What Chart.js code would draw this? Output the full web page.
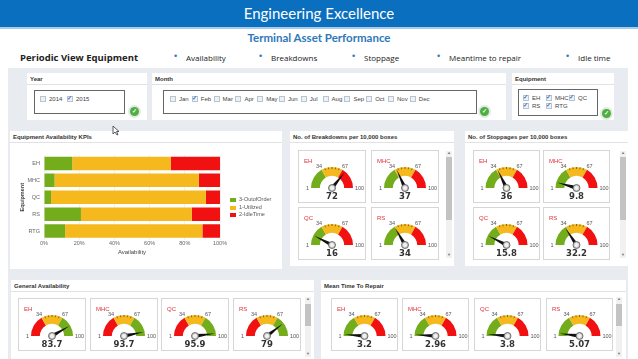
<!DOCTYPE html>
<html>
<head>
<meta charset="utf-8">
<script src="https://cdn.jsdelivr.net/npm/chart.js"></script>
<style>
body { margin: 0; width: 638px; height: 359px; overflow: hidden; background: #fff; position: relative; font-family: "Liberation Sans", Arial, sans-serif; }
.abs { position: absolute; }
#header { left: 0; top: 0; width: 638px; height: 27px; background: #0a6fbe; border-bottom: 2px solid #a9cbe8; color: #fff; font: 15px Lato, sans-serif; text-align: center; line-height: 27px; }
#sub { left: 0; width: 638px; top: 31px; text-align: center; font: bold 11.5px Lato, sans-serif; color: #2f78b8; }
.nav { top: 52px; font: 8px "Open Sans", sans-serif; color: #222; }
.dot { top: 51px; font: 9px sans-serif; color: #2f78b8; }
#bg { left: 8px; top: 68px; width: 620px; height: 291px; background: #e8ecf0; }
.panel { position: absolute; background: #fff; }
.ptitle { position: absolute; left: 3px; top: 3px; font: bold 6px "Liberation Sans", sans-serif; color: #333; white-space: nowrap; }
.psep { position: absolute; left: 0; right: 0; top: 11px; height: 1px; background: #e2e2e2; }
.box { position: absolute; border: 1px solid #666; background: #fff; }
.opt { position: absolute; font: 6px "Liberation Sans", sans-serif; color: #444; white-space: nowrap; }
.cb { display: inline-block; width: 4px; height: 4px; border: 1px solid #b8c4d0; background: #eef2f6; vertical-align: -1px; margin-right: 3px; position: relative; }
.cb.on::after { content: "\2713"; position: absolute; left: -1px; top: -3px; font: bold 6px sans-serif; color: #3a6fb8; }
.ok { position: absolute; width: 9px; height: 9px; border-radius: 50%; background: #4caf3e; box-shadow: 0 0 0 2px #e4e8e4; color: #fff; font: bold 6px sans-serif; text-align: center; line-height: 9px; }
.card { position: absolute; background: #fff; border: 1px solid #d6d6d6; box-sizing: border-box; }
.card canvas { position: absolute; left: 0; top: 0; }
.sb { position: absolute; width: 6px; background: #f1f1f1; }
.sb .th { position: absolute; left: 0; width: 6px; background: #c3c3c3; }
.sb .ar { position: absolute; left: 0; width: 6px; text-align: center; font: 4px sans-serif; color: #777; }
.leg { position: absolute; font: 5.5px "Liberation Sans", sans-serif; color: #555; white-space: nowrap; }
.flag { display: inline-block; width: 5px; height: 4px; margin-right: 3px; border-left: 1px solid; vertical-align: -1px; }
</style>
</head>
<body>
<div id="header" class="abs">Engineering Excellence</div>
<div id="sub" class="abs">Terminal Asset Performance</div>
<div class="abs nav" style="left:20px;font:bold 9.5px 'Open Sans',sans-serif;top:51px">Periodic View Equipment</div>
<div id="bg" class="abs"></div>
<canvas id="kpi" class="abs" width="272" height="122" style="left:10px;top:143px"></canvas>
<script>
// data
const equipment = ["EH", "MHC", "QC", "RS", "RTG"];
const outOfOrder = [16, 6, 4, 21, 12];
const utilized = [56, 82, 88, 63, 78];
const idleTime = [28, 12, 8, 16, 10];
const availabilityTicks = [0, 20, 40, 60, 80, 100];

const gaugeUnits = ["EH", "MHC", "QC", "RS"];
const gaugeTicks = [1, 34, 67, 100];
const breakdowns = [72, 37, 16, 34];
const stoppages = [36, 9.8, 15.8, 32.2];
const availability = [83.7, 93.7, 95.9, 79];
const repairTime = [3.2, 2.96, 3.8, 5.07];

const navItems = ["Availability", "Breakdowns", "Stoppage", "Meantime to repair", "Idle time"];
const years = ["2014", "2015"];
const months = ["Jan", "Feb", "Mar", "Apr", "May", "Jun", "Jul", "Aug", "Sep", "Oct", "Nov", "Dec"];

const GREEN = "#74ad1c", YELLOW = "#f5b91e", RED = "#f21111";

function el(cls, x, y, html, parent) {
  let d = document.createElement("div");
  d.className = cls;
  if (x != null) d.style.left = x + "px";
  if (y != null) d.style.top = y + "px";
  if (html != null) d.innerHTML = html;
  (parent || document.body).appendChild(d);
  return d;
}

function panel(x, y, w, h, title) {
  let p = el("panel", x, y);
  p.style.width = w + "px";
  p.style.height = h + "px";
  el("ptitle", null, null, title, p);
  el("psep", null, null, null, p);
  return p;
}

function scrollbar(x, y, h, thTop, thH) {
  let s = el("sb", x, y);
  s.style.height = h + "px";
  let t = el("th", null, thTop, null, s);
  t.style.height = thH + "px";
  el("ar", null, -1, "&#9650;", s);
  el("ar", null, h - 6, "&#9660;", s);
}

// nav bullets
let navX = [174, 259, 352, 437, 566];
navItems.forEach((t, i) => {
  el("abs dot", navX[i], null, "&#8226;");
  el("abs nav", navX[i] + 12, null, t);
});

// filters
let yp = panel(27, 73, 120, 47, "Year");
let yb = el("box", 7, 17, null, yp); yb.style.width = "89px"; yb.style.height = "22px";
years.forEach((t, i) => el("opt", 5 + i * 27, 5, '<span class="cb' + (i == 1 ? " on" : "") + '"></span>' + t, yb));
el("ok", 103, 34, "&#10003;", yp);

let mp = panel(152, 73, 354, 47, "Month");
let mb = el("box", 11, 17, null, mp); mb.style.width = "312px"; mb.style.height = "22px";
months.forEach((t, i) => el("opt", 6 + i * 21.8, 5, '<span class="cb' + (i == 1 ? " on" : "") + '"></span>' + t, mb));
el("ok", 328, 34, "&#10003;", mp);

let ep = panel(512, 73, 102, 47, "Equipment");
let eb = el("box", 6, 16, null, ep); eb.style.width = "78px"; eb.style.height = "25px";
equipment.forEach((t, i) => el("opt", 4 + (i % 3) * 23, 5 + Math.floor(i / 3) * 8, '<span class="cb on"></span>' + t, eb));
el("ok", 90, 36, "&#10003;", ep);

// panels
panel(10, 131, 272, 138, "Equipment Availability KPIs");
document.body.appendChild(document.getElementById("kpi"));
panel(290, 131, 164, 135, "No. of Breakdowns per 10,000 boxes");
panel(465, 131, 163, 135, "No. of Stoppages per 10,000 boxes");
panel(11, 280, 303, 79, "General Availability");
panel(321, 280, 305, 79, "Mean Time To Repair");

scrollbar(446, 151, 107, 6, 63);
scrollbar(620, 151, 107, 6, 63);
scrollbar(305, 297, 60, 7, 22);
scrollbar(616, 297, 60, 7, 22);

// legend
[["3-OutofOrder", GREEN], ["1-Utilized", YELLOW], ["2-IdleTime", RED]].forEach((l, i) => {
  el("leg", 230, 196 + i * 7.5, '<span class="flag" style="background:' + l[1] + ';border-color:' + l[1] + '"></span>' + l[0]);
});

// stacked availability bars
new Chart(document.getElementById("kpi"), {
  type: "bar",
  data: {
    labels: equipment,
    datasets: [
      { label: "3-OutofOrder", data: outOfOrder, backgroundColor: GREEN },
      { label: "1-Utilized", data: utilized, backgroundColor: YELLOW },
      { label: "2-IdleTime", data: idleTime, backgroundColor: RED }
    ]
  },
  options: {
    indexAxis: "y",
    responsive: false,
    animation: false,
    layout: { padding: { top: 12, right: 62, bottom: 9.5, left: 0 } },
    datasets: { bar: { barPercentage: 0.8, categoryPercentage: 1 } },
    plugins: { legend: { display: false }, tooltip: { enabled: false } },
    scales: {
      x: {
        stacked: true, min: 0, max: 100,
        afterBuildTicks: s => { s.ticks = availabilityTicks.map(v => ({ value: v })); },
        afterFit: s => { s.height = 16; },
        ticks: { callback: v => v + "%", font: { size: 5.5, family: "Liberation Sans" }, color: "#666", padding: 1 },
        grid: { color: "#f1f1f1", drawTicks: false },
        border: { display: false },
        title: { display: true, text: "Availability", font: { size: 6, family: "Liberation Sans" }, color: "#444", padding: 0 }
      },
      y: {
        stacked: true,
        afterFit: s => { s.width = 34; },
        ticks: { font: { size: 5.5, family: "Liberation Sans" }, color: "#666", padding: 4 },
        grid: { display: false, drawTicks: false },
        border: { display: false },
        title: { display: true, text: "Equipment", font: { size: 5.5, family: "Liberation Sans", weight: "bold" }, color: "#444", padding: { top: 9, bottom: 0 } }
      }
    }
  }
});

// gauges
const gaugePlugin = {
  id: "gauge",
  afterDraw(chart, args, opts) {
    const arc = chart.getDatasetMeta(0).data[0];
    const { x, y, outerRadius } = arc.getProps(["x", "y", "outerRadius"], true);
    const ctx = chart.ctx;
    const min = gaugeTicks[0], max = gaugeTicks[gaugeTicks.length - 1];
    const ang = v => Math.PI * (1 + (v - min) / (max - min));
    ctx.save();
    // minor ticks on the middle band
    ctx.strokeStyle = "rgba(60,40,0,0.7)";
    ctx.lineWidth = 0.8;
    let step = (gaugeTicks[2] - gaugeTicks[1]) / 6;
    for (let k = 1; k < 6; k++) {
      let a = ang(gaugeTicks[1] + k * step);
      ctx.beginPath();
      ctx.moveTo(x + Math.cos(a) * (outerRadius - 2), y + Math.sin(a) * (outerRadius - 2));
      ctx.lineTo(x + Math.cos(a) * outerRadius, y + Math.sin(a) * outerRadius);
      ctx.stroke();
    }
    // tick labels
    ctx.fillStyle = "#555";
    ctx.font = "5.5px 'Liberation Sans'";
    ctx.textBaseline = "middle";
    gaugeTicks.forEach((t, i) => {
      let a = ang(t);
      if (i == 0) { ctx.textAlign = "right"; ctx.fillText(t, x - outerRadius - 2, y); }
      else if (i == gaugeTicks.length - 1) { ctx.textAlign = "left"; ctx.fillText(t, x + outerRadius + 2, y); }
      else { ctx.textAlign = "center"; ctx.fillText(t, x + Math.cos(a) * (outerRadius + 5), y + Math.sin(a) * (outerRadius + 4)); }
    });
    // needle
    let a = ang(opts.value);
    let len = outerRadius - 1;
    let px = -Math.sin(a) * 2, py = Math.cos(a) * 2;
    ctx.fillStyle = "#111";
    ctx.beginPath();
    ctx.moveTo(x + px, y + py);
    ctx.lineTo(x + Math.cos(a) * len, y + Math.sin(a) * len);
    ctx.lineTo(x - px, y - py);
    ctx.closePath();
    ctx.fill();
    ctx.beginPath();
    ctx.arc(x, y, 3.5, 0, Math.PI * 2);
    ctx.fillStyle = "#c8c8c8";
    ctx.fill();
    ctx.strokeStyle = "#555";
    ctx.lineWidth = 0.8;
    ctx.stroke();
    ctx.beginPath();
    ctx.arc(x, y, 2, 0, Math.PI * 2);
    ctx.fillStyle = "#f2f2f2";
    ctx.fill();
    // value
    ctx.fillStyle = "#333";
    ctx.font = "bold 8.5px 'DejaVu Sans'";
    ctx.textAlign = "center";
    ctx.fillText(opts.value, x, y + 8.5);
    // unit label
    ctx.fillStyle = "#e0303a";
    ctx.font = "6px 'Liberation Sans'";
    ctx.textAlign = "left";
    ctx.fillText(opts.label, 5, 10);
    ctx.restore();
  }
};

function gauge(x, y, w, h, label, value, colors) {
  let c = el("card", x, y);
  c.style.width = w + "px";
  c.style.height = h + "px";
  let cv = document.createElement("canvas");
  cv.width = w - 2; cv.height = h - 2;
  c.appendChild(cv);
  new Chart(cv, {
    type: "doughnut",
    data: { datasets: [{ data: gaugeTicks.slice(1).map((t, i) => t - gaugeTicks[i]), backgroundColor: colors, borderWidth: 0 }] },
    options: {
      responsive: false, animation: false,
      circumference: 180, rotation: -90, cutout: "58%",
      layout: { padding: { top: 16, bottom: h - 2 - 16 - 21 } },
      plugins: { legend: { display: false }, tooltip: { enabled: false }, gauge: { value: value, label: label } }
    },
    plugins: [gaugePlugin]
  });
}

const lowGood = [GREEN, YELLOW, RED];
const highGood = [RED, YELLOW, GREEN];
const grid2 = [[298, 150], [371, 150], [298, 207], [371, 207]];
const grid2b = [[473, 150], [543, 150], [473, 207], [543, 207]];
const row1 = [[18, 298], [90, 298], [161, 298], [233, 298]];
const row2 = [[331, 298], [402, 298], [474, 298], [546, 298]];
gaugeUnits.forEach((u, i) => {
  gauge(grid2[i][0], grid2[i][1], 68, 53, u, breakdowns[i], lowGood);
  gauge(grid2b[i][0], grid2b[i][1], 67, 53, u, stoppages[i], lowGood);
  gauge(row1[i][0], row1[i][1], 68, 53, u, availability[i], highGood);
  gauge(row2[i][0], row2[i][1], 67, 53, u, repairTime[i], lowGood);
});
</script>
<svg class="abs" style="left:112px;top:125px" width="8" height="11"><path d="M1 1 L1 9 L3 7 L5 10 L6 9.5 L4.5 6.5 L7 6.5 Z" fill="#fff" stroke="#333" stroke-width="0.8"/></svg>
</body>
</html>
